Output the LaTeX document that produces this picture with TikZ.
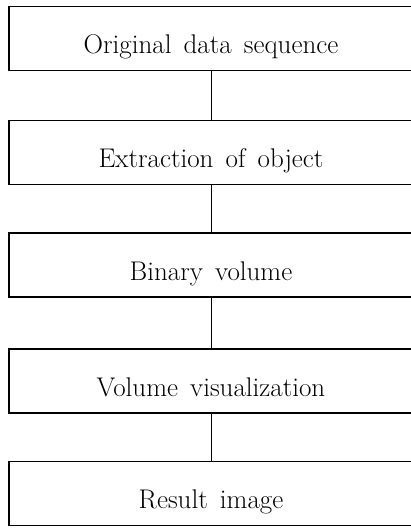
\documentclass[tikz,border=0pt]{standalone}
\begin{document}
\begin{tikzpicture}[x=1pt,y=-1pt,
  stepbox/.style={draw, line width=1.7pt, minimum width=404pt, minimum height=64pt, inner sep=0pt,
    text height=30pt, text depth=0pt,
    font=\fontsize{27}{32}\selectfont, execute at begin node={\spaceskip=0.45em plus 0.1em}},
  link/.style={line width=0.7pt}]
\useasboundingbox (0,0) rectangle (411,531);
\node[stepbox] (a) at (211,38.5) {Original data sequence};
\node[stepbox] (b) at (211,152.5) {Extraction of object};
\node[stepbox] (c) at (211,265) {Binary volume};
\node[stepbox] (d) at (211,381) {Volume visualization};
\node[stepbox] (e) at (211,493.5) {Result image};
\draw[link] (a) -- (b);
\draw[link] (b) -- (c);
\draw[link] (c) -- (d);
\draw[link] (d) -- (e);
\end{tikzpicture}
\end{document}
